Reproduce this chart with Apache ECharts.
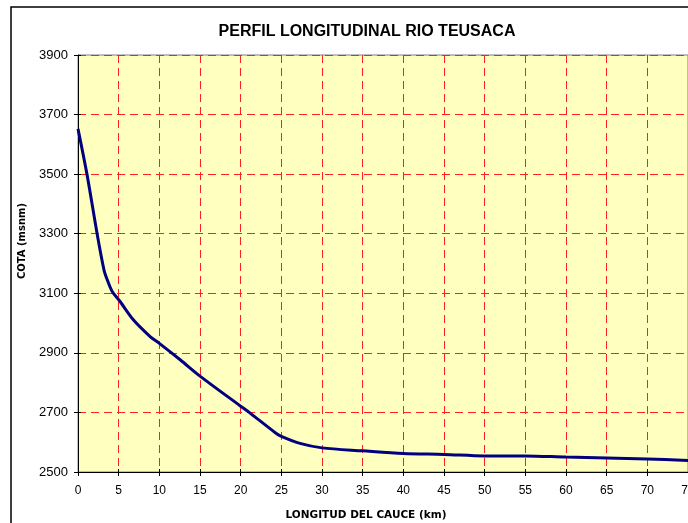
<!DOCTYPE html>
<html>
<head>
<meta charset="utf-8">
<script src="https://cdn.jsdelivr.net/npm/echarts@6/dist/echarts.min.js"></script>
<style>
html,body{margin:0;padding:0;background:#fff;}
#c{width:688px;height:523px;}
</style>
</head>
<body>
<div id="c"></div>
<script>
var titleText = 'PERFIL LONGITUDINAL RIO TEUSACA';
var xName = 'LONGITUD DEL CAUCE (km)';
var yName = 'COTA (msnm)';
var distKm = [0, 1.1, 2.35, 3.2, 3.6, 4.2, 5.1, 6.8, 8.9, 10, 12.6, 15, 20, 21.2, 24.3, 25, 27.3, 30, 35, 40, 45, 50, 55, 60, 65, 70, 75];
var cota = [3652, 3500, 3300, 3178, 3145, 3106, 3075, 3011, 2954, 2932, 2876, 2822, 2721, 2697, 2631, 2620, 2596, 2581, 2571, 2562, 2559, 2554, 2554, 2550, 2547, 2544, 2539];
var xMin = 0, xMax = 75, xStep = 5;
var yMin = 2500, yMax = 3900, yStep = 200;

var pts = distKm.map(function (d, i) { return [d, cota[i]]; });
var chart = echarts.init(document.getElementById('c'), null, {renderer: 'canvas'});
var font = '"Liberation Sans", Arial, sans-serif';
var gridLine = {show: true, lineStyle: {color: '#ff2020', type: [8, 5], width: 1}};
chart.setOption({
  animation: false,
  backgroundColor: '#ffffff',
  title: {
    text: titleText, left: 362, top: 19, textAlign: 'center',
    textStyle: {fontFamily: font, fontSize: 16, fontWeight: 'bold', color: '#000'}
  },
  graphic: [{
    type: 'rect', z: 100, silent: true,
    shape: {x: 11, y: 7, width: 700, height: 600},
    style: {fill: 'none', stroke: '#000', lineWidth: 1.5}
  }, {
    type: 'text', x: 22, y: 241, rotation: Math.PI / 2, silent: true,
    style: {text: yName, fontFamily: '"DejaVu Sans", sans-serif', fontSize: 10, fontWeight: 'bold', fill: '#000', align: 'center', verticalAlign: 'middle'}
  }, {
    type: 'text', x: 366, y: 515, silent: true,
    style: {text: xName, fontFamily: '"DejaVu Sans", sans-serif', fontSize: 10.5, fontWeight: 'bold', fill: '#000', align: 'center', verticalAlign: 'middle'}
  }],
  grid: {
    left: 78, top: 55, right: 0, bottom: 51,
    outerBoundsMode: 'none', containLabel: false,
    show: true, backgroundColor: '#ffffc0', borderColor: '#808080', borderWidth: 1
  },
  xAxis: [{
    type: 'value', min: xMin, max: xMax, interval: xStep,
    axisLine: {onZero: false, lineStyle: {color: '#000', width: 1}},
    axisTick: {show: true, length: 4, lineStyle: {color: '#000'}},
    axisLabel: {fontFamily: font, fontSize: 12, color: '#000', margin: 13, hideOverlap: false},
    splitLine: gridLine
  }, {
    type: 'value', min: xMin, max: xMax, interval: xStep, position: 'bottom',
    axisLine: {show: false}, axisTick: {show: true, inside: true, length: 3, lineStyle: {color: '#000'}},
    axisLabel: {show: false}, splitLine: {show: false}, splitArea: {show: false}
  }],
  yAxis: [{
    type: 'value', min: yMin, max: yMax, interval: yStep,
    axisLine: {show: true, lineStyle: {color: '#000', width: 1}},
    axisTick: {show: true, length: 4, lineStyle: {color: '#000'}},
    axisLabel: {fontFamily: font, fontSize: 13, color: '#000', margin: 10, formatter: function (v) { return String(v); }},
    splitLine: gridLine
  }, {
    type: 'value', min: yMin, max: yMax, interval: yStep, position: 'left',
    axisLine: {show: false}, axisTick: {show: true, inside: true, length: 3, lineStyle: {color: '#000'}},
    axisLabel: {show: false}, splitLine: {show: false}, splitArea: {show: false}
  }],
  series: [{
    type: 'line', data: pts, xAxisIndex: 0, yAxisIndex: 0,
    showSymbol: false, smooth: 0.3,
    lineStyle: {color: '#000080', width: 3}
  }]
});
</script>
</body>
</html>
